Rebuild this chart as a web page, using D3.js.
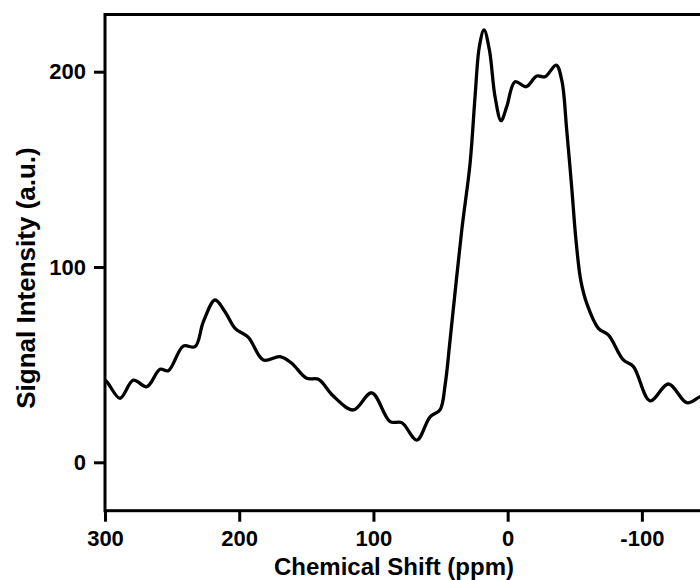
<!DOCTYPE html>
<html>
<head>
<meta charset="utf-8">
<script src="https://cdn.jsdelivr.net/npm/d3@7"></script>
<style>
  body { margin: 0; background: #fff; }
  svg { display: block; }
  text { font-family: "Liberation Sans", Arial, sans-serif; font-weight: bold; fill: #000; }
</style>
</head>
<body>
<svg width="700" height="580"></svg>
<script>
// chemical shift (ppm)
var shift = [305, 298.7, 288.8, 278.9, 268.9, 259.0, 252.8, 241.7, 232.9, 226.7, 218.0, 210.6, 203.1, 193.2,
    182.0, 169.6, 160.9, 149.7, 141.0, 129.9, 115.0, 101.3, 87.6, 78.9, 67.7, 57.8, 50.4, 46.6, 42.9,
    34.2, 28.0, 24.3, 21.1, 17.6, 13.6, 9.4, 4.9, 0.7, -5.5, -13.7, -21.7, -27.9, -36.1, -40.3, -44.0,
    -47.8, -51.0, -54.5, -58.9, -67.6, -75.0, -86.2, -93.7, -106.1, -119.8, -133.5, -143.4, -150];
// signal intensity (a.u.)
var intensity = [45, 41.3, 32.8, 42.1, 38.7, 47.6, 46.9, 59.5, 59.2, 72.0, 83.1, 77.1, 68.6, 64.0,
    52.4, 54.1, 50.7, 43.0, 42.5, 33.9, 26.8, 35.6, 20.8, 20.3, 11.4, 23.3, 26.8, 39.6, 62.6,
    118.9, 153.1, 187.2, 212.8, 221.4, 211.1, 187.2, 174.9, 182.1, 194.9, 192.3, 197.8, 197.4, 203.4, 195.7, 170.1,
    140.0, 113.0, 93.0, 81.4, 68.6, 65.2, 52.4, 49.0, 31.5, 40.1, 30.5, 33.6, 35];
var xTicks = [300, 200, 100, 0, -100];
var yTicks = [0, 100, 200];

var svg = d3.select("svg");
var plotLeft = 105, plotRight = 709, plotTop = 14.5, plotBottom = 510.7;

var x = d3.scaleLinear().domain([300, -150]).range([plotLeft, plotRight]);
var y = d3.scaleLinear().domain([0, 200]).range([462.3, 71.7]);

var data = shift.map(function (s, i) { return [s, intensity[i]]; });

svg.append("clipPath").attr("id", "plot")
    .append("rect")
    .attr("x", plotLeft).attr("y", plotTop)
    .attr("width", plotRight - plotLeft).attr("height", plotBottom - plotTop);

var line = d3.line()
    .x(function (d) { return x(d[0]); })
    .y(function (d) { return y(d[1]); })
    .curve(d3.curveCatmullRom.alpha(0.5));

svg.append("path")
    .datum(data)
    .attr("clip-path", "url(#plot)")
    .attr("fill", "none")
    .attr("stroke", "#000")
    .attr("stroke-width", 3.3)
    .attr("stroke-linejoin", "round")
    .attr("d", line);

// frame
svg.append("rect")
    .attr("x", plotLeft).attr("y", plotTop)
    .attr("width", plotRight - plotLeft).attr("height", plotBottom - plotTop)
    .attr("fill", "none")
    .attr("stroke", "#000")
    .attr("stroke-width", 3);

var xAxis = svg.append("g")
    .attr("transform", "translate(0," + plotBottom + ")")
    .call(d3.axisBottom(x).tickValues(xTicks).tickSize(11).tickSizeOuter(0).tickPadding(6)
        .tickFormat(function (d) { return d; }));

var yAxis = svg.append("g")
    .attr("transform", "translate(" + plotLeft + ",0)")
    .call(d3.axisLeft(y).tickValues(yTicks).tickSize(11).tickSizeOuter(0).tickPadding(8));

[xAxis, yAxis].forEach(function (g) {
    g.select(".domain").remove();
    g.selectAll(".tick line").attr("stroke", "#000").attr("stroke-width", 3);
    g.selectAll(".tick text").attr("font-size", 22).attr("font-family", null);
});
xAxis.selectAll(".tick text").attr("dy", null).attr("y", 35);

svg.append("text")
    .text("Chemical Shift (ppm)")
    .attr("x", 394)
    .attr("y", 575)
    .attr("text-anchor", "middle")
    .attr("font-size", 24);

svg.append("text")
    .text("Signal Intensity (a.u.)")
    .attr("transform", "translate(35,278) rotate(-90)")
    .attr("text-anchor", "middle")
    .attr("font-size", 26);
</script>
</body>
</html>
